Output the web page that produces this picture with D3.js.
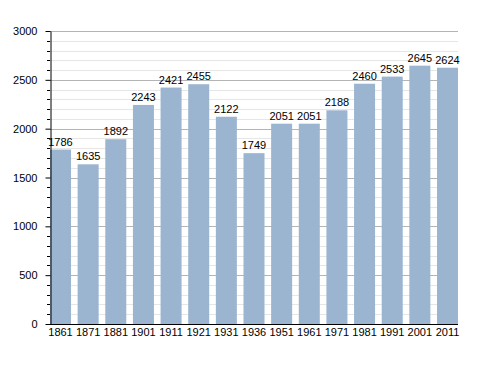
<!DOCTYPE html>
<html>
<head>
<meta charset="utf-8">
<script src="https://cdn.jsdelivr.net/npm/d3@7"></script>
<style>
  body { margin: 0; background: #fff; }
  svg { display: block; font-family: "Liberation Sans", Arial, sans-serif; }
</style>
</head>
<body>
<svg width="488" height="373"></svg>
<script>
// data
var years = ["1861","1871","1881","1901","1911","1921","1931","1936","1951","1961","1971","1981","1991","2001","2011"];
var population = [1786,1635,1892,2243,2421,2455,2122,1749,2051,2051,2188,2460,2533,2645,2624];
var yTicks = [0,500,1000,1500,2000,2500,3000];

var svg = d3.select("svg");
var mLeft = 50, mRight = 458, mTop = 31, mBottom = 324;

var x = d3.scaleBand()
    .domain(years)
    .range([mLeft, mRight])
    .paddingInner(0.24)
    .paddingOuter(0);

var y = d3.scaleLinear()
    .domain([0, 3000])
    .range([mBottom, mTop]);

function py(d) { return Math.round(y(d)) + 0.5; }

// minor grid every 100
var minor = d3.range(100, 3001, 100).filter(function(v) { return v % 500 != 0; });
svg.append("g").selectAll("line")
    .data(minor).enter().append("line")
    .attr("x1", mLeft).attr("x2", mRight)
    .attr("y1", py).attr("y2", py)
    .attr("stroke", "#e6e6e6");

// major grid
svg.append("g").selectAll("line")
    .data(yTicks.slice(1)).enter().append("line")
    .attr("x1", mLeft).attr("x2", mRight)
    .attr("y1", py).attr("y2", py)
    .attr("stroke", "#b4b4b4");

// bars
svg.append("g").selectAll("rect")
    .data(population).enter().append("rect")
    .attr("x", function(d, i) { return x(years[i]); })
    .attr("width", x.bandwidth())
    .attr("y", function(d) { return y(d); })
    .attr("height", function(d) { return mBottom - y(d); })
    .attr("fill", "#9bb4d0");

// value labels
svg.append("g").selectAll("text")
    .data(population).enter().append("text")
    .attr("x", function(d, i) { return x(years[i]) + x.bandwidth() / 2; })
    .attr("y", function(d) { return y(d) - 4; })
    .attr("text-anchor", "middle")
    .attr("font-size", "11px")
    .attr("fill", "#000")
    .text(function(d) { return d; });

// y axis with minor ticks
var yAxis = svg.append("g")
    .attr("transform", "translate(" + (mLeft + 0.5) + ",0)")
    .call(d3.axisLeft(y).tickValues(yTicks).tickFormat(d3.format("d")).tickSize(5).tickSizeOuter(0).tickPadding(8));
yAxis.selectAll(".tick text").attr("font-size", "11px").attr("fill", "#000").style("font-family", "inherit");
yAxis.select(".domain").attr("stroke", "#000");
svg.append("g").selectAll("line")
    .data(minor).enter().append("line")
    .attr("x1", mLeft - 3).attr("x2", mLeft)
    .attr("y1", py).attr("y2", py)
    .attr("stroke", "#000");

// x axis
var xAxis = svg.append("g")
    .attr("transform", "translate(0," + (mBottom + 0.5) + ")")
    .call(d3.axisBottom(x).tickSize(0).tickPadding(4));
xAxis.select(".domain").attr("stroke", "#000").attr("d", "M" + mLeft + ",0H" + mRight);
xAxis.selectAll(".tick text").attr("font-size", "11px").attr("fill", "#000").style("font-family", "inherit");
</script>
</body>
</html>
